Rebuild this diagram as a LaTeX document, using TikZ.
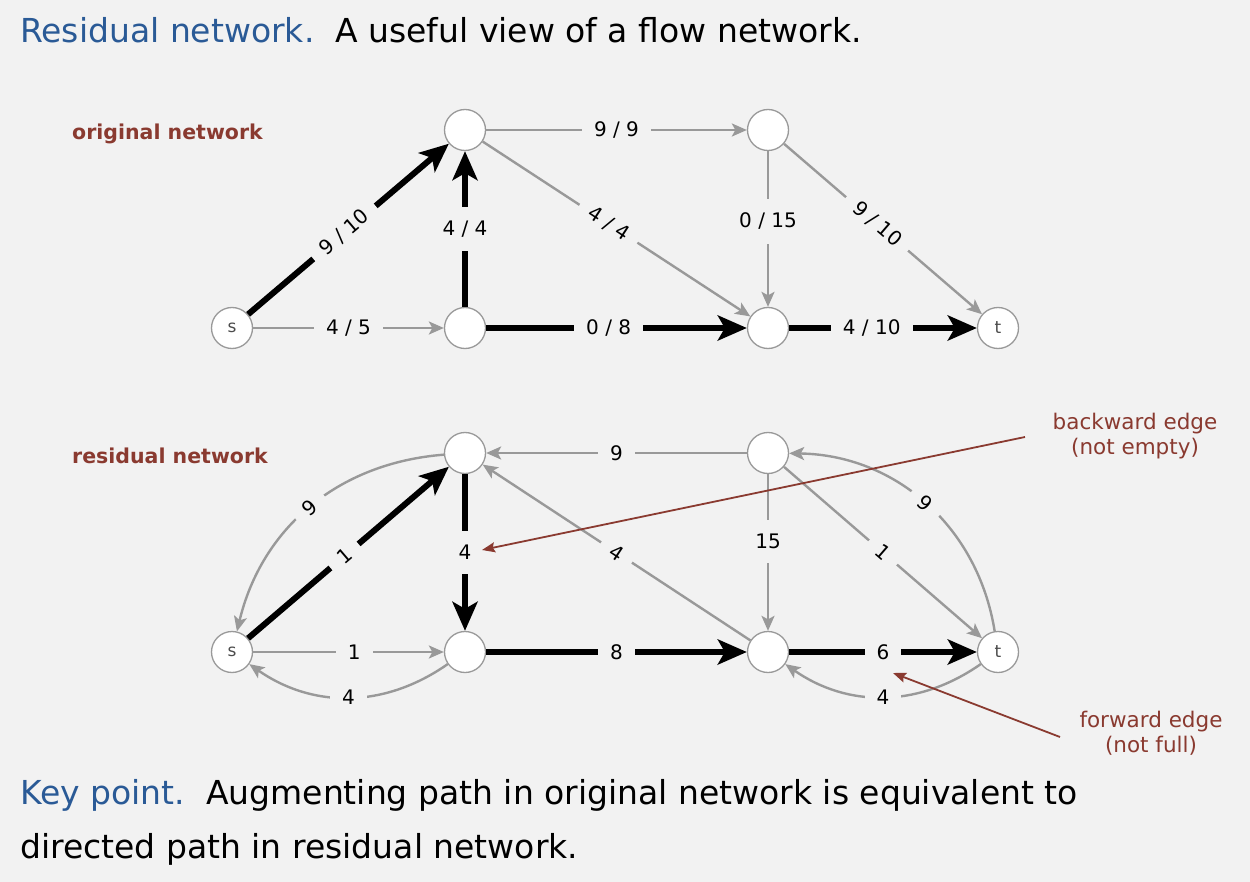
\documentclass[tikz,border=0pt]{standalone}
\usepackage{fontspec}
\setmainfont{DejaVu Sans}
\usetikzlibrary{arrows.meta,calc}
\definecolor{bg}{HTML}{F2F2F2}
\definecolor{titleblue}{HTML}{2A5A96}
\definecolor{annot}{HTML}{8A3A30}
\definecolor{edgegray}{HTML}{999999}

\newcommand{\fs}[1]{\fontsize{#1}{#1}\selectfont}

\begin{document}
\begin{tikzpicture}[x=1pt,y=-1pt,
  vertex/.style={circle,draw=edgegray,line width=1.3pt,fill=white,
    minimum size=41pt,inner sep=0pt,font=\fs{17},text=black!70},
  flowedge/.style={draw=edgegray,line width=2.4pt,
    -{Stealth[length=15pt,width=13pt,inset=3.5pt]}},
  pathedge/.style={draw=black,line width=6pt,
    -{Stealth[length=29pt,width=25pt,inset=7pt]}},
  lbl/.style={fill=bg,inner xsep=12pt,inner ysep=14pt,font=\fs{20},text=black},
  headline/.style={anchor=base west,inner sep=0pt,font=\fs{33},text=black},
  section/.style={anchor=base west,inner sep=0pt,font=\bfseries\fs{20.5},text=annot},
  note/.style={align=center,font=\fs{21.5},text=annot,inner sep=0pt},
  noteline/.style={draw=annot,line width=1.8pt,
    -{Stealth[length=13pt,width=10pt,inset=2pt]}}
]
% canvas
\fill[bg] (0,0) rectangle (1250,882);

% headings
\node[headline] (title) at (20,43)
  {\textcolor{titleblue}{Residual network.}\ \ A useful view of a flow network.};
\node[section] (orig) at (72,140) {original network};
\node[section] (resid) at (72,463) {residual network};
\node[headline] (key1) at (20,804)
  {\textcolor{titleblue}{Key point.}\ \ Augmenting path in original network is equivalent to};
\node[headline] (key2) at (20,858) {directed path in residual network.};

% ---------------- original network ----------------
\node[vertex] (s1) at (232,328) {s};
\node[vertex] (a1) at (465,130) {};
\node[vertex] (b1) at (465,328) {};
\node[vertex] (c1) at (768,130) {};
\node[vertex] (d1) at (768,328) {};
\node[vertex] (t1) at (998,328) {t};

\draw[flowedge] (s1) -- node[lbl,pos=.5]{4 / 5} (b1);
\draw[flowedge] (a1) -- node[lbl,pos=.5]{9 / 9} (c1);
\draw[flowedge] (a1) -- node[lbl,sloped,pos=.47]{4 / 4} (d1);
\draw[flowedge] (c1) -- node[lbl,pos=.45]{0 / 15} (d1);
\draw[flowedge] (c1) -- node[lbl,sloped,pos=.47]{9 / 10} (t1);
\draw[pathedge] (s1) -- node[lbl,sloped,pos=.48]{9 / 10} (a1);
\draw[pathedge] (b1) -- node[lbl,pos=.5]{4 / 4} (a1);
\draw[pathedge] (b1) -- node[lbl,pos=.47]{0 / 8} (d1);
\draw[pathedge] (d1) -- node[lbl,pos=.44]{4 / 10} (t1);

% ---------------- residual network ----------------
\node[vertex] (s2) at (232,652) {s};
\node[vertex] (a2) at (465,453) {};
\node[vertex] (b2) at (465,652) {};
\node[vertex] (c2) at (768,453) {};
\node[vertex] (d2) at (768,652) {};
\node[vertex] (t2) at (998,652) {t};

\draw[flowedge] (a2) to[bend right=36] node[lbl,sloped]{9} (s2);
\draw[flowedge] (s2) -- node[lbl,pos=.53]{1} (b2);
\draw[flowedge] (b2) to[bend left=35] node[lbl]{4} (s2);
\draw[flowedge] (c2) -- node[lbl,pos=.5]{9} (a2);
\draw[flowedge] (d2) -- node[lbl,sloped,pos=.5]{4} (a2);
\draw[flowedge] (c2) -- node[lbl,pos=.43]{15} (d2);
\draw[flowedge] (c2) -- node[lbl,sloped,pos=.5]{1} (t2);
\draw[flowedge] (t2) to[bend right=40] node[lbl,sloped]{9} (c2);
\draw[flowedge] (t2) to[bend left=35] node[lbl]{4} (d2);
\draw[pathedge] (s2) -- node[lbl,sloped,pos=.48]{1} (a2);
\draw[pathedge] (a2) -- node[lbl,pos=.5]{4} (b2);
\draw[pathedge] (b2) -- node[lbl,pos=.5]{8} (d2);
\draw[pathedge] (d2) -- node[lbl,pos=.5]{6} (t2);

% ---------------- annotations ----------------
\node[note] (bwnote) at (1135,436) {backward edge\\[4pt](not empty)};
\node[note] (fwnote) at (1151,733) {forward edge\\[4pt](not full)};
\coordinate (bwfrom) at (1025,437);
\coordinate (bwto) at (482,550);
\coordinate (fwfrom) at (1060,737);
\coordinate (fwto) at (893,673);
\draw[noteline] (bwfrom) -- (bwto);
\draw[noteline] (fwfrom) -- (fwto);
\end{tikzpicture}
\end{document}
